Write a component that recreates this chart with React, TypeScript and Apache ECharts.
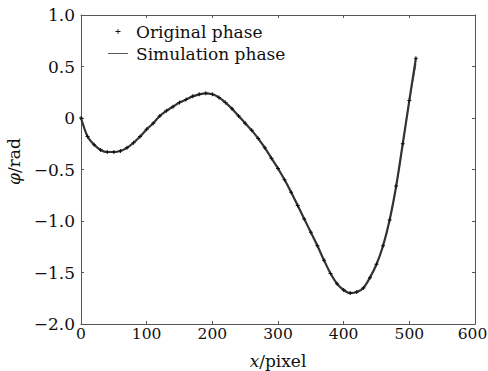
import React, { useEffect, useRef } from "react";
import * as echarts from "echarts";

const xPixels = [
  0, 10, 20, 30, 40, 50, 60, 70, 80, 90, 100, 110, 120, 130, 140, 150, 160, 170, 180, 190,
  200, 210, 220, 230, 240, 250, 260, 270, 280, 290, 300, 310, 320, 330, 340, 350, 360, 370,
  380, 390, 400, 410, 420, 430, 440, 450, 460, 470, 480, 490, 500, 510,
];
const originalPhase = [
  0.0, -0.18, -0.26, -0.31, -0.33, -0.33, -0.32, -0.29, -0.24, -0.18, -0.11, -0.05, 0.02, 0.07,
  0.11, 0.15, 0.18, 0.21, 0.23, 0.24, 0.23, 0.2, 0.15, 0.09, 0.02, -0.05, -0.12, -0.2, -0.29,
  -0.39, -0.49, -0.6, -0.72, -0.85, -0.98, -1.11, -1.24, -1.38, -1.51, -1.61, -1.67, -1.7, -1.69,
  -1.65, -1.55, -1.42, -1.24, -0.99, -0.66, -0.25, 0.17, 0.58,
];
const simulationPhase = [
  0.0, -0.18, -0.26, -0.31, -0.33, -0.33, -0.32, -0.29, -0.24, -0.18, -0.11, -0.05, 0.02, 0.07,
  0.11, 0.15, 0.18, 0.21, 0.23, 0.24, 0.23, 0.2, 0.15, 0.09, 0.02, -0.05, -0.12, -0.2, -0.29,
  -0.39, -0.49, -0.6, -0.72, -0.85, -0.98, -1.11, -1.24, -1.38, -1.51, -1.61, -1.67, -1.7, -1.69,
  -1.65, -1.55, -1.42, -1.24, -0.99, -0.66, -0.25, 0.17, 0.52,
];
const xTicks = [0, 100, 200, 300, 400, 500, 600];
const yTicks = [-2.0, -1.5, -1.0, -0.5, 0, 0.5, 1.0];

const FONT = "DejaVu Serif";
const FS = 17;
const XFS = 15.5;
const PLUS = "path://M3,0H5V3H8V5H5V8H3V5H0V3H3Z";
const LEGEND_PLUS =
  "path://M0,0L0.01,0L0,0.01Z M19.99,14L20,14L20,13.99Z M9.6,4.5H10.4V6.6H12.5V7.4H10.4V9.5H9.6V7.4H7.5V6.6H9.6Z";
const LINEICON = "path://M0,0H20V0.9H0Z";

export default function App() {
  const ref = useRef<HTMLDivElement>(null);
  useEffect(() => {
    document.body.style.margin = "0";
    if (!ref.current) return;
    const chart = echarts.init(ref.current, null, { renderer: "svg" });
    const fmtY = (v: number) => (v === 0 ? "0" : v.toFixed(1).replace("-", "\u2212"));
    const lastX = xTicks[xTicks.length - 1];
    const fmtX = (v: number) => (v === lastX ? `{r|${v}}` : `${v}`);
    const axisLine = { show: true, onZero: false, lineStyle: { color: "#555", width: 1 } };
    const tick = { show: true, inside: true, length: 3, lineStyle: { color: "#555" } };
    const nameStyle = {
      fontFamily: FONT,
      fontSize: FS,
      color: "#111",
      rich: { i: { fontStyle: "italic", fontFamily: FONT, fontSize: FS, color: "#111" } },
    };
    chart.setOption({
      animation: false,
      backgroundColor: "#fff",
      grid: {
        left: 81,
        right: 13,
        top: 15,
        bottom: 47,
        show: false,
        containLabel: false,
        outerBoundsMode: "none",
      },
      legend: {
        orient: "vertical",
        left: 103,
        top: 18,
        itemWidth: 20,
        itemHeight: 14,
        itemGap: 5,
        textStyle: { fontFamily: FONT, fontSize: FS, color: "#111", padding: [0, 0, 0, 3] },
        data: [
          { name: "Original phase", icon: LEGEND_PLUS, itemStyle: { color: "#111" } },
          { name: "Simulation phase", icon: LINEICON, itemStyle: { color: "#444" } },
        ],
      },
      xAxis: [
        {
          type: "value",
          min: xTicks[0],
          max: lastX,
          interval: 100,
          position: "bottom",
          axisLine,
          axisTick: tick,
          splitLine: { show: false },
          axisLabel: {
            fontFamily: FONT,
            fontSize: XFS,
            color: "#111",
            margin: 2,
            formatter: fmtX,
            rich: {
              r: { fontFamily: FONT, fontSize: XFS, color: "#111", padding: [0, 5, 0, 0] },
            },
          },
          name: "{i|x}/pixel",
          nameLocation: "middle",
          nameGap: 28,
          nameTextStyle: nameStyle,
        },
        {
          type: "value",
          min: xTicks[0],
          max: lastX,
          interval: 100,
          position: "top",
          axisLine,
          axisTick: tick,
          axisLabel: { show: false },
          splitLine: { show: false },
        },
      ],
      yAxis: [
        {
          type: "value",
          min: yTicks[0],
          max: yTicks[yTicks.length - 1],
          interval: 0.5,
          position: "left",
          axisLine,
          axisTick: tick,
          splitLine: { show: false },
          axisLabel: { fontFamily: FONT, fontSize: FS, color: "#111", margin: 6, formatter: fmtY },
          name: "{i|\u03c6}/rad",
          nameLocation: "middle",
          nameGap: 45,
          nameRotate: 90,
          nameTextStyle: { ...nameStyle, padding: [0, 0, 0, 16] },
        },
        {
          type: "value",
          min: yTicks[0],
          max: yTicks[yTicks.length - 1],
          interval: 0.5,
          position: "right",
          axisLine,
          axisTick: tick,
          axisLabel: { show: false },
          splitLine: { show: false },
        },
      ],
      series: [
        {
          name: "Simulation phase",
          type: "line",
          data: xPixels.map((x, i) => [x, simulationPhase[i]]),
          showSymbol: false,
          smooth: 0.3,
          lineStyle: { color: "#444", width: 1 },
          itemStyle: { color: "#444" },
          z: 1,
        },
        {
          name: "Original phase",
          type: "line",
          data: xPixels.map((x, i) => [x, originalPhase[i]]),
          smooth: 0.3,
          symbol: PLUS,
          symbolSize: 4,
          showSymbol: true,
          lineStyle: { color: "#333", width: 2.2 },
          itemStyle: { color: "#111" },
          z: 2,
        },
      ],
    });
    return () => chart.dispose();
  }, []);
  return <div ref={ref} style={{ width: 488, height: 371 }} />;
}
